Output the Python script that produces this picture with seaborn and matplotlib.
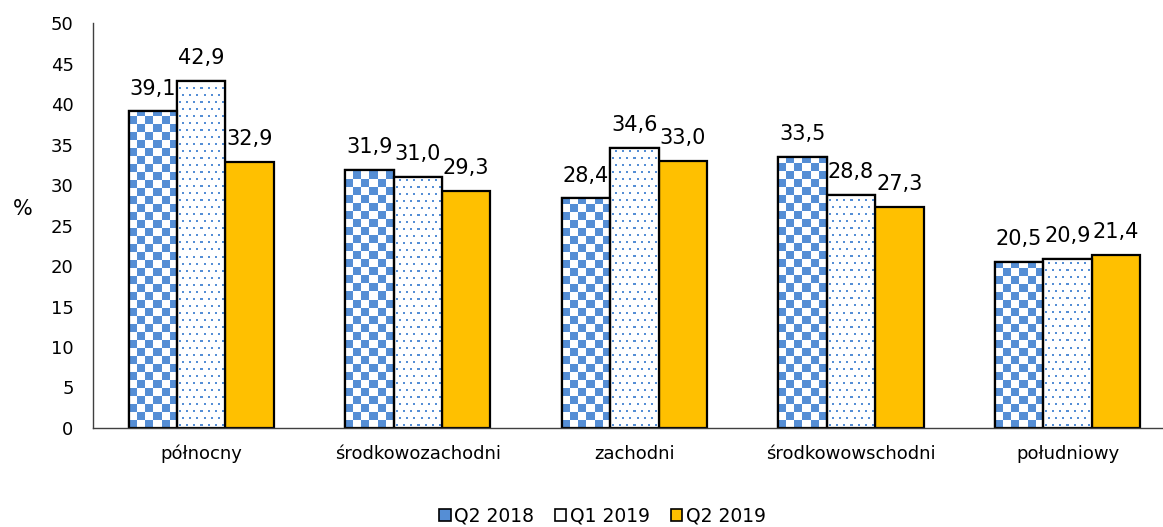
import numpy as np
import pandas as pd
import matplotlib
matplotlib.use("Agg")
import matplotlib.pyplot as plt
from matplotlib.patches import Patch
import seaborn as sns

regions = ["północny", "środkowozachodni", "zachodni", "środkowowschodni", "południowy"]
periods = ["Q2 2018", "Q1 2019", "Q2 2019"]
q2_2018 = [39.1, 31.9, 28.4, 33.5, 20.5]
q1_2019 = [42.9, 31.0, 34.6, 28.8, 20.9]
q2_2019 = [32.9, 29.3, 33.0, 27.3, 21.4]

BLUE = "#558ED5"
GOLD = "#FFC000"

df = pd.DataFrame({
    "region": regions * 3,
    "okres": [p for p in periods for _ in regions],
    "value": q2_2018 + q1_2019 + q2_2019,
})

sns.set_style("white")
plt.rcParams["font.family"] = ["DejaVu Sans"]
plt.rcParams["text.color"] = "black"
plt.rcParams["xtick.color"] = "black"
plt.rcParams["ytick.color"] = "black"
plt.rcParams["axes.labelcolor"] = "black"

fig = plt.figure(figsize=(11.63, 5.27), dpi=100)
ax = fig.add_axes([0.080, 0.188, 0.931, 0.768])

sns.barplot(data=df, x="region", y="value", hue="okres", hue_order=periods,
            palette=["white", "white", GOLD], width=0.67, gap=0,
            edgecolor="black", linewidth=1.6, saturation=1, legend=False, ax=ax)

ax.set_ylim(0, 50)
ax.set_xlim(-0.5, 4.5)
fig.canvas.draw()


def bar_pixels(bar):
    x0, y0 = bar.get_x(), bar.get_y()
    (px0, py0), (px1, py1) = ax.transData.transform([(x0, y0), (x0 + bar.get_width(), y0 + bar.get_height())])
    return max(int(round(px1 - px0)), 1), max(int(round(py1 - py0)), 1)


def checker(w, h, cell=8):
    yy, xx = np.mgrid[0:h, 0:w]
    m = ((xx // cell) + (yy // cell)) % 2
    img = np.ones((h, w, 3))
    img[m == 0] = matplotlib.colors.to_rgb(BLUE)
    return img


def dots(w, h, step=7):
    img = np.ones((h, w, 3))
    c = matplotlib.colors.to_rgb(BLUE)
    for r, y in enumerate(range(2, h, step)):
        off = 3 if r % 2 else 0
        for x in range(2 + off, w - 1, step):
            img[y:y + 2, x:x + 2] = c
    return img


# tekstury słupków (szachownica / kropki)
for cont, maker in zip(ax.containers[:2], [checker, dots]):
    for bar in cont:
        w, h = bar_pixels(bar)
        x0, y0 = bar.get_x(), bar.get_y()
        im = ax.imshow(maker(w, h), extent=(x0, x0 + bar.get_width(), y0, y0 + bar.get_height()),
                       origin="lower", interpolation="nearest", aspect="auto", zorder=bar.get_zorder() + 0.1)
        im.set_clip_path(bar)
        outline = plt.Rectangle((x0, y0), bar.get_width(), bar.get_height(), fill=False,
                                edgecolor="black", linewidth=1.6, zorder=bar.get_zorder() + 0.2)
        ax.add_patch(outline)

ax.set_xlim(-0.5, 4.5)
ax.set_ylim(0, 50)

for cont in ax.containers:
    labels = [f"{v:.1f}".replace(".", ",") for v in cont.datavalues]
    ax.bar_label(cont, labels=labels, padding=9, fontsize=15)

ax.set_yticks(range(0, 51, 5))
ax.tick_params(axis="y", labelsize=13, length=0, pad=14)
ax.tick_params(axis="x", labelsize=13, length=0, pad=12)
ax.set_xlabel("")
ax.set_ylabel("%", fontsize=15, rotation=0)
ax.yaxis.set_label_coords(-0.065, 0.515)

for s in ["top", "right"]:
    ax.spines[s].set_visible(False)
for s in ["left", "bottom"]:
    ax.spines[s].set_color("#404040")
    ax.spines[s].set_linewidth(1.0)

handles = [
    Patch(facecolor=BLUE, edgecolor="black", linewidth=1.2),
    Patch(facecolor="white", edgecolor="black", linewidth=1.2),
    Patch(facecolor=GOLD, edgecolor="black", linewidth=1.2),
]
fig.legend(handles, periods, loc="center", bbox_to_anchor=(0.518, 0.02), ncol=3, frameon=False,
           fontsize=13.5, handlelength=0.6, handleheight=0.6, handletextpad=0.2, columnspacing=1.1)

fig.savefig("out.png", dpi=100)
